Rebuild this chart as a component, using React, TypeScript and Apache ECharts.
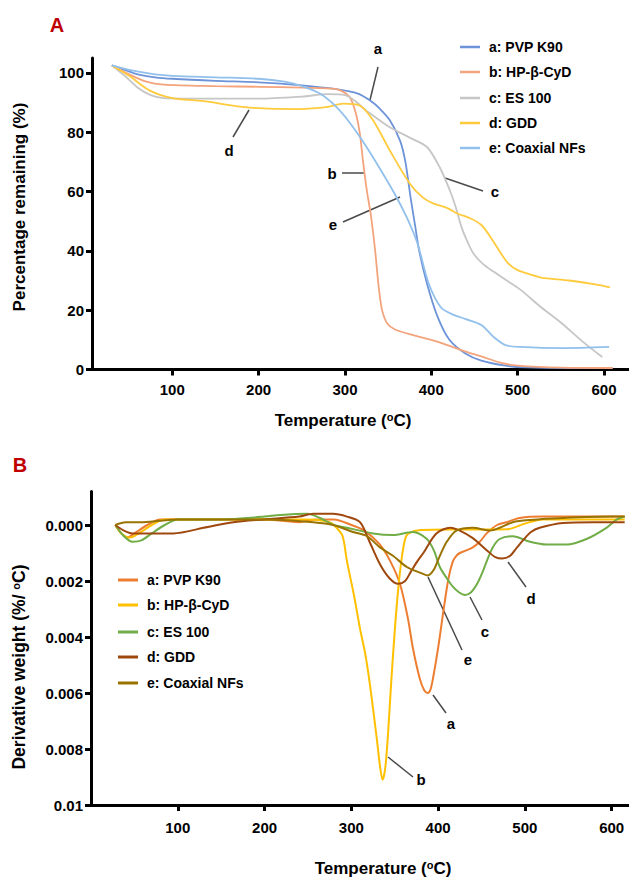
import React, { useEffect, useRef } from "react";
import * as echarts from "echarts";

// ---------- Panel A: TGA (percentage remaining) ----------
const tgaSeriesNames = ["a: PVP K90", "b: HP-β-CyD", "c: ES 100", "d: GDD", "e: Coaxial NFs"];
const tgaColors = ["#6d93d8", "#f4a47c", "#c6c6c6", "#ffcb3c", "#92c0ec"];

const tgaT_a = [30, 45, 60, 80, 100, 150, 200, 250, 290, 315, 330, 340, 352, 364, 370, 376, 381, 386, 395, 407, 421, 439, 458, 486, 510, 560, 610];
const tgaW_a = [102.5, 101, 99.5, 98.5, 98, 97.3, 96.8, 95.8, 94.5, 93, 90.5, 88, 84, 77, 70, 58, 49, 40, 29, 18, 10, 5.5, 3, 1.3, 0.7, 0.5, 0.5];

const tgaT_b = [30, 50, 70, 90, 150, 200, 250, 290, 305, 312, 317, 321, 325, 330, 335, 339, 343, 349, 358, 380, 411, 440, 458, 480, 500, 550, 610];
const tgaW_b = [102.5, 99.5, 97, 96, 95.5, 95.3, 95, 94.5, 92, 87, 80, 70, 61, 52, 40, 28, 20, 15.5, 13.5, 11.5, 9, 6, 4.4, 2.3, 1.3, 0.6, 0.5];

const tgaT_c = [30, 45, 60, 75, 90, 150, 200, 250, 280, 300, 326, 350, 376, 395, 410, 422, 428, 435, 442, 449, 460, 472, 490, 505, 525, 551, 575, 598];
const tgaW_c = [102.5, 99, 95, 92.5, 91.5, 91.3, 91.3, 92, 92.8, 92.5, 87, 82, 78, 75, 68, 60, 55, 48, 43, 39, 35.5, 33, 29.5, 26.5, 21.5, 15.6, 9.5, 4.2];

const tgaT_d = [30, 50, 74, 100, 132, 190, 248, 280, 298, 317, 333, 352, 375, 390, 402, 418, 430, 445, 458, 470, 481, 490, 500, 515, 527, 560, 590, 607];
const tgaW_d = [102.5, 99, 94, 91.5, 90.6, 88.3, 87.8, 88.5, 89.6, 89, 83.8, 73.8, 62.7, 58, 56, 54.5, 52.6, 51, 48.7, 44, 39, 35.5, 33.5, 32, 31, 30, 28.7, 27.7];

const tgaT_e = [30, 50, 80, 100, 150, 200, 230, 250, 271, 290, 306, 325, 344, 358, 372, 384, 397, 411, 425, 440, 458, 472, 486, 504, 551, 606];
const tgaW_e = [102.5, 101, 99.5, 99, 98.5, 98, 97, 95.5, 93, 88.5, 83, 75, 66, 59, 51, 42.5, 29, 21, 18.5, 17, 15, 11, 8.2, 7.6, 7.2, 7.6];

const tgaTicks = [0, 20, 40, 60, 80, 100];
const tempTicks = [100, 200, 300, 400, 500, 600];

// ---------- Panel B: DTG (derivative weight) ----------
const dtgSeriesNames = ["a: PVP K90", "b: HP-β-CyD", "c: ES 100", "d: GDD", "e: Coaxial NFs"];
const dtgColors = ["#ed7d31", "#ffc000", "#70ad47", "#9e480e", "#997300"];

const dtgT_a = [28, 35, 42, 50, 65, 80, 120, 200, 240, 260, 280, 300, 315, 333, 345, 356, 365, 371, 379, 384, 388, 391, 394, 400, 406, 412, 417, 421, 425, 433, 440, 448, 456, 468, 479, 494, 520, 560, 615];
const dtgD_a = [0, 0.0003, 0.00045, 0.0003, 0, -0.0002, -0.0002, -0.0002, -0.0001, -0.0002, -0.0002, 0, 0.0002, 0.0007, 0.0013, 0.0021, 0.0033, 0.0044, 0.0055, 0.0059, 0.006, 0.0059, 0.0055, 0.0044, 0.0031, 0.0019, 0.0013, 0.0011, 0.001, 0.0009, 0.0008, 0.0006, 0.0003, 0, -0.0001, -0.00025, -0.0003, -0.0003, -0.0003];

const dtgT_b = [28, 35, 45, 55, 70, 85, 150, 200, 250, 275, 283, 290, 295, 303, 310, 316, 321, 326, 330, 333, 336, 339, 342, 346, 350, 354, 358, 362, 366, 380, 430, 480, 500, 520, 560, 615];
const dtgD_b = [0, 0.0003, 0.00045, 0.0003, 0, -0.0002, -0.0002, -0.0002, -0.0002, -0.0001, 0.0001, 0.0004, 0.0013, 0.0025, 0.0037, 0.0046, 0.0056, 0.0068, 0.0078, 0.0086, 0.0091, 0.0087, 0.0076, 0.0056, 0.0038, 0.0023, 0.0012, 0.0005, 0.0003, 0.00018, 0.00016, 0.00015, -0.00005, -0.0002, -0.0002, -0.0002];

const dtgT_c = [28, 38, 48, 58, 70, 85, 100, 150, 200, 218, 249, 264, 280, 295, 325, 348, 371, 387, 395, 402, 410, 417, 424, 431, 438, 445, 451, 456, 463, 471, 486, 506, 525, 548, 571, 594, 606, 615];
const dtgD_c = [0, 0.0004, 0.0006, 0.00055, 0.0003, 0, -0.0002, -0.0002, -0.0003, -0.00036, -0.0004, -0.00025, 0, 0.0001, 0.0003, 0.00036, 0.00025, 0.0005, 0.0009, 0.0015, 0.0019, 0.0022, 0.0024, 0.0025, 0.0024, 0.0021, 0.0017, 0.0013, 0.0008, 0.0005, 0.0004, 0.0006, 0.0007, 0.0007, 0.0005, 0.0001, -0.0002, -0.0003];

const dtgT_d = [28, 38, 48, 70, 95, 130, 164, 200, 240, 256, 279, 295, 310, 321, 333, 344, 354, 362, 368, 376, 383, 398, 414, 425, 440, 456, 466, 474, 483, 491, 498, 507, 517, 544, 580, 615];
const dtgD_d = [0, 0.0002, 0.0003, 0.0003, 0.0003, 0.0001, -0.0001, -0.0002, -0.0003, -0.0004, -0.0004, -0.0003, -0.0001, 0.0006, 0.0014, 0.0019, 0.0021, 0.002, 0.0017, 0.0013, 0.001, 0.0003, 0.0001, 0.0002, 0.00047, 0.0009, 0.00115, 0.0012, 0.0011, 0.0008, 0.00054, 0.00025, 0.0001, -0.00007, -0.0001, -0.0001];

const dtgT_e = [28, 40, 60, 100, 150, 200, 218, 256, 279, 302, 318, 333, 348, 364, 379, 388, 395, 402, 410, 421, 440, 460, 471, 486, 506, 544, 601, 615];
const dtgD_e = [0, -0.0001, -0.0001, -0.0002, -0.0002, -0.0002, -0.00018, -0.0001, 0, 0.00025, 0.0004, 0.0008, 0.0011, 0.0015, 0.0017, 0.0018, 0.0016, 0.0011, 0.0006, 0.0002, 0.0001, 0.0002, 0.0001, -0.0001, -0.00018, -0.00025, -0.0003, -0.0003];

const dtgTicks = [0, 0.002, 0.004, 0.006, 0.008, 0.01];

const FONT = "'Liberation Sans', Arial, sans-serif";

const zip = (t: number[], v: number[]) => t.map((x, i) => [x, v[i]]);

const tgaData = [zip(tgaT_a, tgaW_a), zip(tgaT_b, tgaW_b), zip(tgaT_c, tgaW_c), zip(tgaT_d, tgaW_d), zip(tgaT_e, tgaW_e)];
const dtgData = [zip(dtgT_a, dtgD_a), zip(dtgT_b, dtgD_b), zip(dtgT_c, dtgD_c), zip(dtgT_d, dtgD_d), zip(dtgT_e, dtgD_e)];

function axisCommon(ticks: number[], margin: number, formatter?: (v: number) => string) {
  return {
    axisLine: { show: true, onZero: false, lineStyle: { color: "#000", width: 3 } },
    axisTick: { show: true, length: 6, lineStyle: { color: "#000", width: 3 }, customValues: ticks },
    axisLabel: {
      customValues: ticks,
      color: "#000",
      fontWeight: "bold",
      fontSize: 15,
      fontFamily: FONT,
      margin,
      formatter: formatter,
    },
    splitLine: { show: false },
  };
}

function legendGraphics(x0: number, ys: number[], names: string[], colors: string[], lw: number) {
  const els: any[] = [];
  names.forEach((n, i) => {
    els.push({
      type: "line",
      shape: { x1: x0, y1: ys[i], x2: x0 + 20, y2: ys[i] },
      style: { stroke: colors[i], lineWidth: lw },
    });
    els.push({
      type: "text",
      x: x0 + 29,
      y: ys[i],
      style: { text: n, fill: "#000", fontSize: 14, fontWeight: "bold", fontFamily: FONT, verticalAlign: "middle", align: "left" },
    });
  });
  return els;
}

function pointer(label: string, tx: number, ty: number, x1: number, y1: number, x2: number, y2: number) {
  return [
    { type: "line", shape: { x1, y1, x2, y2 }, style: { stroke: "#4a4a4a", lineWidth: 1.5 } },
    {
      type: "text",
      x: tx,
      y: ty,
      style: { text: label, fill: "#000", fontSize: 15, fontWeight: "bold", fontFamily: FONT, align: "center", verticalAlign: "middle" },
    },
  ];
}

const supRich = {
  s: { fontSize: 11, fontWeight: "bold", fontFamily: FONT, verticalAlign: "top", fill: "#000" },
};

export default function App() {
  const ref = useRef<HTMLDivElement>(null);
  useEffect(() => {
    if (!ref.current) return;
    const chart = echarts.init(ref.current, null, { renderer: "svg" });
    const series: any[] = [];
    tgaData.forEach((d, i) => {
      series.push({
        type: "line",
        name: "A " + tgaSeriesNames[i],
        xAxisIndex: 0,
        yAxisIndex: 0,
        data: d,
        showSymbol: false,
        smooth: 0.3,
        lineStyle: { color: tgaColors[i], width: 1.8 },
      });
    });
    dtgData.forEach((d, i) => {
      series.push({
        type: "line",
        name: "B " + dtgSeriesNames[i],
        xAxisIndex: 1,
        yAxisIndex: 1,
        data: d,
        showSymbol: false,
        smooth: 0.3,
        lineStyle: { color: dtgColors[i], width: 2 },
      });
    });

    const graphics: any[] = [
      { type: "text", x: 57, y: 25, style: { text: "A", fill: "#c00000", fontSize: 20, fontWeight: "bold", fontFamily: FONT, align: "center", verticalAlign: "middle" } },
      { type: "text", x: 20, y: 465, style: { text: "B", fill: "#c00000", fontSize: 20, fontWeight: "bold", fontFamily: FONT, align: "center", verticalAlign: "middle" } },
      {
        type: "text", x: 343, y: 420,
        style: { text: "Temperature ({s|o}C)", fill: "#000", fontSize: 17, fontWeight: "bold", fontFamily: FONT, align: "center", verticalAlign: "middle", rich: supRich },
      },
      {
        type: "text", x: 383, y: 868,
        style: { text: "Temperature ({s|o}C)", fill: "#000", fontSize: 17, fontWeight: "bold", fontFamily: FONT, align: "center", verticalAlign: "middle", rich: supRich },
      },
      {
        type: "text", x: 19, y: 207, rotation: Math.PI / 2,
        style: { text: "Percentage remaining (%)", fill: "#000", fontSize: 17, fontWeight: "bold", fontFamily: FONT, align: "center", verticalAlign: "middle" },
      },
      {
        type: "text", x: 19, y: 667, rotation: Math.PI / 2,
        style: { text: "Derivative weight (%/ {s|o}C)", fill: "#000", fontSize: 17.5, fontWeight: "bold", fontFamily: FONT, align: "center", verticalAlign: "middle", rich: supRich },
      },
      ...legendGraphics(460, [47, 72, 98, 123, 148], tgaSeriesNames, tgaColors, 2.5),
      ...legendGraphics(118, [580, 605, 632, 657, 683], dtgSeriesNames, dtgColors, 3),
      ...pointer("a", 378, 48, 378, 67, 370, 100),
      ...pointer("b", 332, 173, 342, 173, 364, 173),
      ...pointer("c", 495, 191, 445, 178, 483, 191),
      ...pointer("d", 229, 150, 233, 137, 249, 110),
      ...pointer("e", 333, 224, 343, 222, 400, 197),
      ...pointer("a", 451, 723, 433, 695, 446, 713),
      ...pointer("b", 421, 779, 388, 757, 413, 777),
      ...pointer("c", 485, 631, 470, 597, 482, 620),
      ...pointer("d", 531, 598, 508, 562, 526, 587),
      ...pointer("e", 468, 659, 428, 577, 462, 650),
    ];

    chart.setOption({
      animation: false,
      backgroundColor: "#fff",
      grid: [
        { left: 92, top: 58, width: 537, height: 311.5 },
        { left: 91, top: 491.4, width: 538, height: 313.6 },
      ],
      xAxis: [
        { type: "value", gridIndex: 0, min: 7, max: 629, position: "bottom", ...axisCommon(tempTicks, 12) },
        { type: "value", gridIndex: 1, min: 0, max: 620, position: "bottom", ...axisCommon(tempTicks, 15) },
      ],
      yAxis: [
        { type: "value", gridIndex: 0, min: 0, max: 105, ...axisCommon(tgaTicks, 8) },
        {
          type: "value", gridIndex: 1, min: -0.0012, max: 0.01, inverse: true,
          ...axisCommon(dtgTicks, 8, (v: number) => (Math.abs(v - 0.01) < 1e-9 ? "0.01" : v.toFixed(3))),
        },
      ],
      series,
      graphic: graphics,
    });
    return () => chart.dispose();
  }, []);
  return <div ref={ref} style={{ position: "absolute", left: 0, top: 0, width: 629, height: 884 }} />;
}
